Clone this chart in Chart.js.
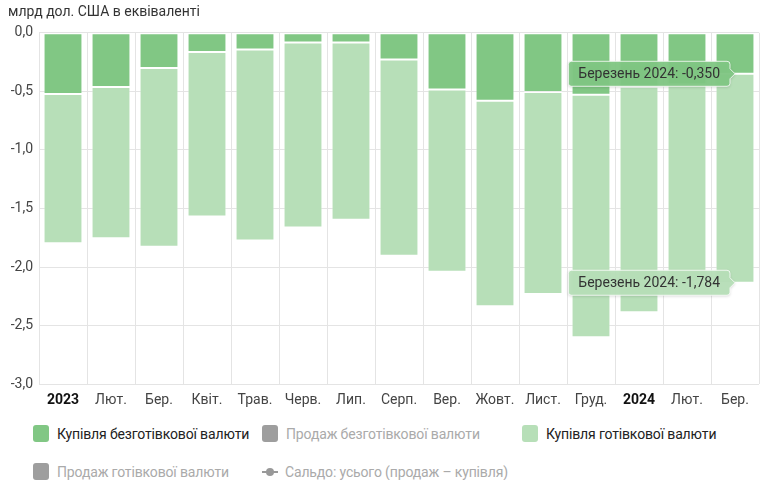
<!DOCTYPE html>
<html lang="uk">
<head>
<meta charset="UTF-8">
<title>Купівля валюти</title>
<style>
  body { margin: 0; background: #fff; font-family: Roboto, "Noto Sans", sans-serif; }
  #wrap { position: relative; width: 768px; height: 417px; }
  #legend {
    display: grid;
    grid-template-columns: 229px 260px auto;
    row-gap: 21px;
    padding-left: 33px;
    margin-top: 8px;
  }
  .item { display: flex; align-items: center; height: 17px; font-size: 14px; color: #222; white-space: nowrap; letter-spacing: -0.15px; }
  .item.off { color: #aaa; }
  .box { width: 16px; height: 17px; border-radius: 3px; margin-right: 8px; }
  .line { position: relative; width: 16px; height: 17px; margin-right: 7px; }
  .line::before { content: ""; position: absolute; left: 0; right: 0; top: 8px; height: 1.5px; background: #999; }
  .line::after { content: ""; position: absolute; left: 4px; top: 4.5px; width: 8px; height: 8px; border-radius: 50%; background: #999; }
</style>
</head>
<body>
<div id="wrap"><canvas id="chart"></canvas></div>
<div id="legend"></div>

<script src="https://cdn.jsdelivr.net/npm/chart.js"></script>
<script>
// months on the x axis
const labels = ['2023', 'Лют.', 'Бер.', 'Квіт.', 'Трав.', 'Черв.', 'Лип.', 'Серп.', 'Вер.', 'Жовт.', 'Лист.', 'Груд.', '2024', 'Лют.', 'Бер.'];
const monthNames = ['Січень 2023', 'Лютий 2023', 'Березень 2023', 'Квітень 2023', 'Травень 2023', 'Червень 2023',
  'Липень 2023', 'Серпень 2023', 'Вересень 2023', 'Жовтень 2023', 'Листопад 2023', 'Грудень 2023',
  'Січень 2024', 'Лютий 2024', 'Березень 2024'];

// billions USD equivalent (purchases are negative)
const nonCashBuy = [-0.523, -0.463, -0.300, -0.163, -0.143, -0.083, -0.083, -0.229, -0.483, -0.580, -0.506, -0.528, -0.460, -0.440, -0.350];
const cashBuy = [-1.274, -1.291, -1.526, -1.406, -1.631, -1.580, -1.514, -1.674, -1.557, -1.754, -1.723, -2.072, -1.926, -1.680, -1.784];

const yTicks = [0, -0.5, -1, -1.5, -2, -2.5, -3];
const pinIndex = 14; // tooltips shown for the last month

const darkGreen = '#81c784';
const lightGreen = '#b7dfb8';

// draws the two fixed tooltips next to the pinned bar
const pinTooltips = {
  id: 'pinTooltips',
  afterDatasetsDraw(chart) {
    const ctx = chart.ctx;
    const fills = ['rgba(129,199,132,0.95)', 'rgba(183,223,184,0.95)'];
    chart.data.datasets.forEach((ds, di) => {
      const bar = chart.getDatasetMeta(di).data[pinIndex];
      if (!bar) return;
      const value = ds.data[pinIndex];
      const text = monthNames[pinIndex] + ': ' + value.toFixed(3).replace('.', ',');
      ctx.save();
      ctx.font = '14px Roboto';
      const w = ctx.measureText(text).width + 20;
      const h = 25;
      const right = bar.x - 5;
      const left = right - w;
      const top = bar.y - h / 2;
      ctx.shadowColor = 'rgba(0,0,0,0.18)';
      ctx.shadowBlur = 3;
      ctx.shadowOffsetY = 1;
      ctx.beginPath();
      ctx.moveTo(left + 3, top);
      ctx.lineTo(right - 3, top);
      ctx.quadraticCurveTo(right, top, right, top + 3);
      ctx.lineTo(right, bar.y - 5);
      ctx.lineTo(bar.x, bar.y);
      ctx.lineTo(right, bar.y + 5);
      ctx.lineTo(right, top + h - 3);
      ctx.quadraticCurveTo(right, top + h, right - 3, top + h);
      ctx.lineTo(left + 3, top + h);
      ctx.quadraticCurveTo(left, top + h, left, top + h - 3);
      ctx.lineTo(left, top + 3);
      ctx.quadraticCurveTo(left, top, left + 3, top);
      ctx.closePath();
      ctx.fillStyle = fills[di];
      ctx.fill();
      ctx.shadowColor = 'transparent';
      ctx.strokeStyle = 'rgba(255,255,255,0.8)';
      ctx.lineWidth = 1;
      ctx.stroke();
      ctx.fillStyle = '#333';
      ctx.textBaseline = 'middle';
      ctx.fillText(text, left + 10, bar.y + 1);
      ctx.restore();
    });
  }
};

new Chart(document.getElementById('chart'), {
  type: 'bar',
  data: {
    labels: labels,
    datasets: [
      { label: 'Купівля безготівкової валюти', data: nonCashBuy, backgroundColor: darkGreen,
        borderColor: 'rgba(255,255,255,0.35)', borderWidth: 1, borderSkipped: false },
      { label: 'Купівля готівкової валюти', data: cashBuy, backgroundColor: lightGreen,
        borderColor: 'rgba(255,255,255,0.35)', borderWidth: 1, borderSkipped: false }
    ]
  },
  options: {
    responsive: true,
    maintainAspectRatio: false,
    animation: false,
    layout: { padding: { left: 8, right: 9, top: 2, bottom: 0 } },
    datasets: { bar: { categoryPercentage: 0.9, barPercentage: 0.9 } },
    plugins: {
      legend: { display: false },
      tooltip: { enabled: false },
      title: {
        display: true,
        text: 'млрд дол. США в еквіваленті',
        align: 'start',
        color: '#333',
        font: { family: 'Roboto', size: 14, weight: 'normal' },
        padding: { top: 2, bottom: 12 }
      }
    },
    scales: {
      x: {
        stacked: true,
        grid: { color: '#e4e4e4', drawTicks: false, offset: true },
        border: { display: false },
        ticks: {
          padding: 8,
          autoSkip: false,
          maxRotation: 0,
          color: (c) => (labels[c.index] === '2023' || labels[c.index] === '2024') ? '#111' : '#444',
          font: (c) => ({ family: 'Roboto', size: 14,
            weight: (labels[c.index] === '2023' || labels[c.index] === '2024') ? 'bold' : 'normal' })
        }
      },
      y: {
        stacked: true,
        min: -3,
        max: 0,
        afterBuildTicks: (axis) => { axis.ticks = yTicks.map(v => ({ value: v })); },
        afterFit: (axis) => { axis.width = 31; },
        grid: { color: '#e4e4e4', drawTicks: false },
        border: { display: false },
        ticks: {
          padding: 6,
          color: '#444',
          font: { family: 'Roboto', size: 14 },
          callback: (v) => v.toFixed(1).replace('.', ',')
        }
      }
    }
  },
  plugins: [pinTooltips]
});

// legend: the hidden series are shown greyed out as on the source page
const legendItems = [
  { text: 'Купівля безготівкової валюти', color: darkGreen, off: false },
  { text: 'Продаж безготівкової валюти', color: '#9e9e9e', off: true },
  { text: 'Купівля готівкової валюти', color: lightGreen, off: false },
  { text: 'Продаж готівкової валюти', color: '#9e9e9e', off: true },
  { text: 'Сальдо: усього (продаж – купівля)', line: true, off: true }
];
const legend = document.getElementById('legend');
legendItems.forEach(it => {
  const el = document.createElement('div');
  el.className = 'item' + (it.off ? ' off' : '');
  const mark = document.createElement('span');
  if (it.line) {
    mark.className = 'line';
  } else {
    mark.className = 'box';
    mark.style.background = it.color;
  }
  el.appendChild(mark);
  el.appendChild(document.createTextNode(it.text));
  legend.appendChild(el);
});
</script>
</body>
</html>
